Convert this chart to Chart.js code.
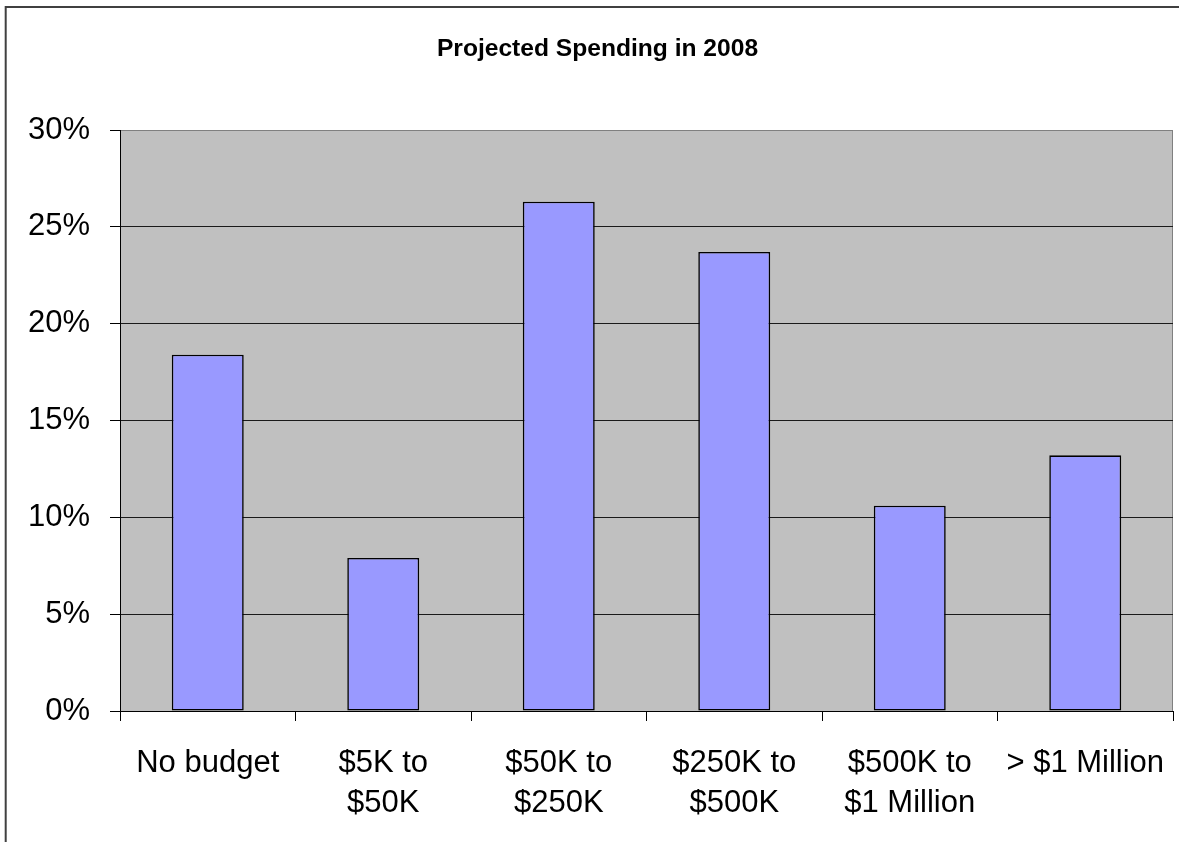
<!DOCTYPE html>
<html>
<head>
<meta charset="utf-8">
<title>Projected Spending in 2008</title>
<script src="https://cdn.jsdelivr.net/npm/chart.js@4.4.1/dist/chart.umd.min.js"></script>
<style>
    html, body { margin: 0; padding: 0; background: #fff; }
    #spendingChart { display: block; }
</style>
</head>
<body>
<canvas id="spendingChart" width="1179" height="842"></canvas>
<script>
const chartTitle = 'Projected Spending in 2008';
const categories = [
    'No budget',
    ['$5K to', '$50K'],
    ['$50K to', '$250K'],
    ['$250K to', '$500K'],
    ['$500K to', '$1 Million'],
    '> $1 Million'
];
const spendingShare = [18.4, 7.9, 26.3, 23.7, 10.6, 13.2];
const yMax = 30;
const yStep = 5;

const fontFamily = "'Liberation Sans', Arial, sans-serif";

// gray plot background, gray right edge and the outer frame
const framePlugin = {
    id: 'frame',
    beforeDraw: function (chart) {
        const ctx = chart.ctx;
        const area = chart.chartArea;
        ctx.save();
        ctx.fillStyle = '#ffffff';
        ctx.fillRect(0, 0, chart.width, chart.height);

        ctx.strokeStyle = '#404040';
        ctx.lineWidth = 2;
        ctx.beginPath();
        ctx.moveTo(5.7, chart.height + 5);
        ctx.lineTo(5.7, 7);
        ctx.lineTo(chart.width + 5, 7);
        ctx.stroke();

        ctx.fillStyle = '#c0c0c0';
        ctx.fillRect(area.left, area.top, area.right - area.left, area.bottom - area.top);
        ctx.strokeStyle = '#808080';
        ctx.lineWidth = 1;
        ctx.beginPath();
        ctx.moveTo(area.right - 0.5, area.top);
        ctx.lineTo(area.right - 0.5, area.bottom);
        ctx.stroke();
        ctx.restore();
    }
};

const ctx = document.getElementById('spendingChart').getContext('2d');
const chart = new Chart(ctx, {
    type: 'bar',
    data: {
        labels: categories,
        datasets: [{
            label: 'Share',
            data: spendingShare,
            backgroundColor: '#9999ff',
            borderColor: '#000000',
            borderWidth: 1.6,
            borderSkipped: false,
            barPercentage: 0.41,
            categoryPercentage: 1.0
        }]
    },
    options: {
        responsive: false,
        animation: false,
        layout: {
            padding: { left: 22, right: 6, top: 0, bottom: 0 }
        },
        plugins: {
            legend: { display: false },
            tooltip: { enabled: false },
            title: {
                display: true,
                text: chartTitle,
                color: '#000',
                font: { family: fontFamily, size: 24.6, weight: 'bold', lineHeight: 1.2 },
                padding: { top: 34, bottom: 66.48 }
            }
        },
        scales: {
            x: {
                afterFit: function (scale) {
                    scale.height = 131;
                    // keep the plot right edge where the layout puts it
                    scale.paddingLeft = 0;
                    scale.paddingRight = 0;
                },
                grid: {
                    offset: true,
                    drawOnChartArea: false,
                    drawTicks: true,
                    tickLength: 10,
                    tickColor: '#000'
                },
                border: { display: true, color: '#000', width: 1 },
                ticks: {
                    color: '#000',
                    padding: 22,
                    maxRotation: 0,
                    autoSkip: false,
                    font: { family: fontFamily, size: 31, lineHeight: 1.3 }
                }
            },
            y: {
                min: 0,
                max: yMax,
                afterFit: function (scale) {
                    scale.width = 98;
                },
                grid: {
                    color: function (context) {
                        return context.tick && context.tick.value === yMax ? '#808080' : '#1a1a1a';
                    },
                    lineWidth: 1,
                    drawTicks: true,
                    tickLength: 10,
                    tickColor: '#000'
                },
                border: { display: true, color: '#000', width: 1 },
                ticks: {
                    stepSize: yStep,
                    color: '#000',
                    padding: 20,
                    font: { family: fontFamily, size: 31 },
                    callback: function (value) {
                        return value + '%';
                    }
                }
            }
        }
    },
    plugins: [framePlugin]
});
</script>
</body>
</html>
